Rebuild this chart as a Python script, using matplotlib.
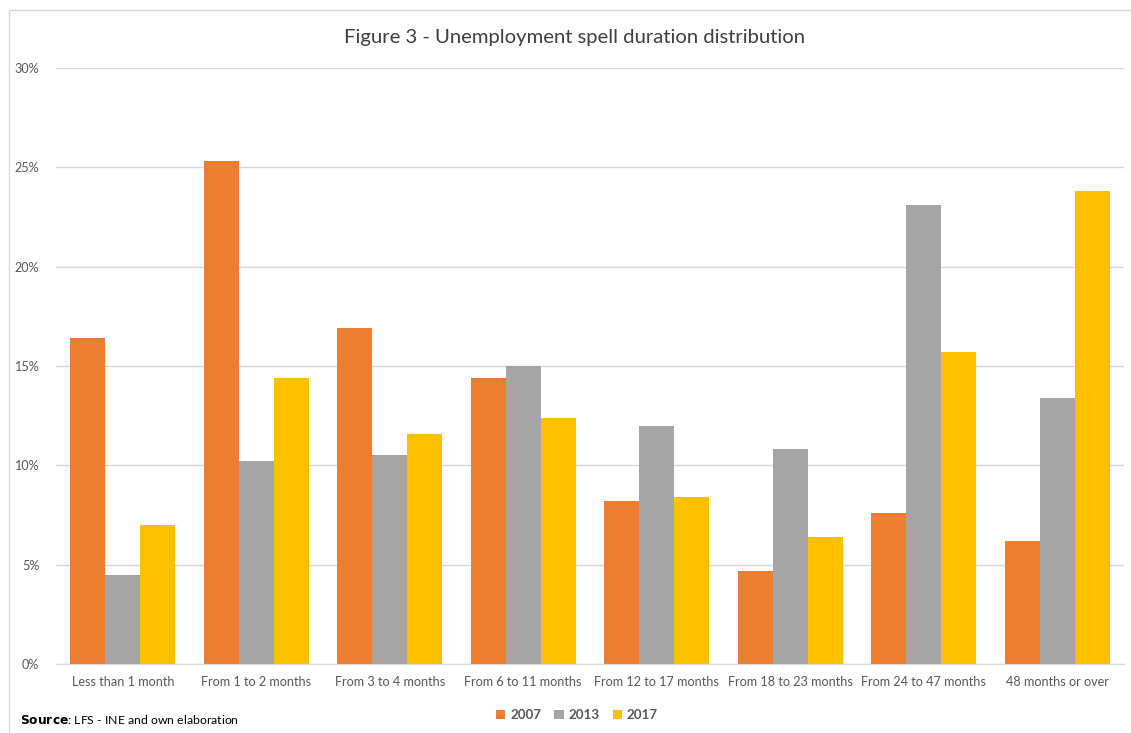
import matplotlib.pyplot as plt
import numpy as np
from matplotlib.ticker import PercentFormatter
from matplotlib.patches import Rectangle

plt.rcParams['font.family'] = ['Lato', 'DejaVu Sans']

categories = ['Less than 1 month', 'From 1 to 2 months', 'From 3 to 4 months',
              'From 6 to 11 months', 'From 12 to 17 months', 'From 18 to 23 months',
              'From 24 to 47 months', '48 months or over']
years = ['2007', '2013', '2017']
share_2007 = [16.4, 25.3, 16.9, 14.4, 8.2, 4.7, 7.6, 6.2]
share_2013 = [4.5, 10.2, 10.5, 15.0, 12.0, 10.8, 23.1, 13.4]
share_2017 = [7.0, 14.4, 11.6, 12.4, 8.4, 6.4, 15.7, 23.8]
colors = ['#ED7D31', '#A5A5A5', '#FFC000']

fig = plt.figure(figsize=(11.31, 7.33), dpi=100)
ax = fig.add_axes([56 / 1131, 1 - 664 / 733, 1068 / 1131, 596 / 733])

x = np.arange(len(categories))
width = 0.2622
for i, (vals, yr) in enumerate(zip([share_2007, share_2013, share_2017], years)):
    ax.bar(x + (i - 1) * width, vals, width, color=colors[i], label=yr, zorder=2)

ax.set_xlim(-0.5, len(categories) - 0.5)
ax.set_ylim(0, 30)
ax.set_yticks(range(0, 31, 5))
ax.yaxis.set_major_formatter(PercentFormatter(decimals=0))
ax.grid(axis='y', color='#D9D9D9', linewidth=1, zorder=0)
ax.set_xticks(x)
ax.set_xticklabels(categories)
ax.tick_params(length=0, labelsize=9.1, labelcolor='#595959')
ax.tick_params(axis='x', pad=9)
ax.tick_params(axis='y', pad=12)
for s in ['top', 'right', 'left']:
    ax.spines[s].set_visible(False)
ax.spines['bottom'].set_color('#D9D9D9')

fig.text(575 / 1131, 1 - 37 / 733, 'Figure 3 - Unemployment spell duration distribution',
         ha='center', va='center', fontsize=14.6, color='#404040')

leg = fig.legend(loc='center', bbox_to_anchor=(577 / 1131, 1 - 715 / 733), ncol=3,
                 frameon=False, prop={'weight': 'bold', 'size': 9.6},
                 handlelength=0.7, handleheight=0.7, handletextpad=0.35, columnspacing=1.0)
for t in leg.get_texts():
    t.set_color('#595959')

fig.text(20 / 1131, 1 - 719 / 733, r'$\bf{Source}$: LFS - INE and own elaboration',
         ha='left', va='center', fontsize=8.8, color='black')

# outer chart border
fig.patches.append(Rectangle((9 / 1131, -0.01), 1.02, 1 - 10 / 733 + 0.01,
                             transform=fig.transFigure, fill=False,
                             edgecolor='#D9D9D9', linewidth=1))

fig.savefig('out.png', dpi=100)
